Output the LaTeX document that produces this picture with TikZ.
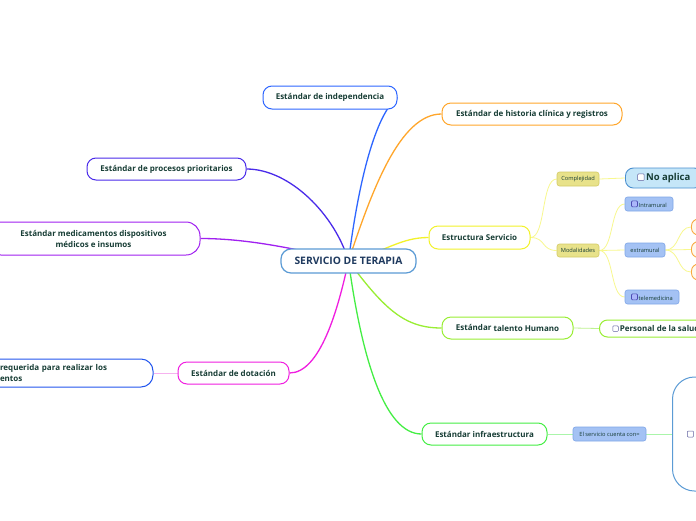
\documentclass[tikz,border=0pt]{standalone}
\usepackage{fontspec}
\setmainfont{Open Sans}
\usetikzlibrary{backgrounds}
\definecolor{txt}{HTML}{173D35}
\definecolor{navy}{HTML}{1F3A5F}
\definecolor{cc}{HTML}{5B9BD5}
\definecolor{cblue}{HTML}{2E66FF}
\definecolor{cblue2}{HTML}{2255EE}
\definecolor{corange}{HTML}{FFA62B}
\definecolor{cindigo}{HTML}{4A2BEA}
\definecolor{cpurple}{HTML}{A020F0}
\definecolor{cmag}{HTML}{F01EE0}
\definecolor{cpink}{HTML}{F6B2EF}
\definecolor{cyel}{HTML}{F2F22A}
\definecolor{cyel2}{HTML}{F8F88E}
\definecolor{clgreen}{HTML}{99EE33}
\definecolor{clgreen2}{HTML}{BDF28E}
\definecolor{cgreen}{HTML}{44EE44}
\definecolor{cgreen2}{HTML}{AAF5AA}
\definecolor{ykh}{HTML}{E8E28A}
\definecolor{ykhd}{HTML}{D4CB66}
\definecolor{lb}{HTML}{A4C2F4}
\definecolor{lbd}{HTML}{7FA6E8}
\definecolor{nab}{HTML}{C5E6F8}
\definecolor{nabd}{HTML}{4A90D0}
\definecolor{corng}{HTML}{F8A940}
\definecolor{corf}{HTML}{FFF8EE}
\newcommand{\cbox}[1]{\tikz[baseline=0pt]\draw[draw=gray!75!blue, line width=0.5pt, rounded corners=0.8pt, fill=white] (0pt,0pt) rectangle (#1,#1);}
\newcommand{\cboxb}[1]{\tikz[baseline=-0.5pt]\draw[draw=blue!40!gray, line width=0.6pt, rounded corners=1pt, fill=lb!70!blue!60] (0pt,0pt) rectangle (#1,#1);}
\tikzset{
  topic/.style={draw, fill=white, line width=1pt, rounded corners=9pt, inner sep=0pt,
    font=\bfseries\fontsize{8}{11}\selectfont, text=txt, minimum height=22pt},
  subbox/.style={draw, line width=0.6pt, rounded corners=2.5pt, inner sep=0pt,
    font=\fontsize{5.7}{6.5}\selectfont, text=txt, minimum height=14pt},
  link/.style={line width=1.3pt},
  sublink/.style={line width=0.8pt},
}
\begin{document}
\begin{tikzpicture}[x=1pt,y=-1pt]
\useasboundingbox (0,0) rectangle (696,520);
\clip (0,0) rectangle (696,520);

% central
\node[draw=cc, fill=white, line width=1.2pt, rounded corners=10pt, minimum width=135pt, minimum height=24pt,
  inner sep=0pt, font=\bfseries\fontsize{10.3}{12}\selectfont, text=navy] (c) at (348.5,261) {SERVICIO DE TERAPIA};

% main topics
\node[topic, draw=cblue, minimum width=134pt, minimum height=23pt] (indep) at (330,97.5) {Estándar de independencia};
\node[topic, draw=corange, minimum width=180pt] (hist) at (532,114) {Estándar de historia clínica y registros};
\node[topic, draw=cindigo, minimum width=159pt] (proc) at (166.5,169) {Estándar de procesos prioritarios};
\node[topic, draw=cpurple, minimum width=213pt, minimum height=33pt, rounded corners=14pt, align=center] (med) at (93.5,238.5) {Estándar medicamentos dispositivos\\médicos e insumos};
\node[topic, draw=cyel, minimum width=101pt, minimum height=23pt] (est) at (479.5,237.5) {Estructura Servicio};
\node[topic, draw=clgreen, minimum width=131pt] (tal) at (507.5,328) {\raisebox{1pt}{Estándar} talento Humano};
\node[topic, draw=cgreen, minimum width=125pt] (inf) at (484.5,434) {Estándar infraestructura};
\node[topic, draw=cmag, minimum width=111pt] (dot) at (233.5,373) {Estándar de dotación};
\node[topic, draw=cblue2, minimum height=28pt, text width=114pt, inner xsep=39pt, align=left, rounded corners=12pt] (req) at (57,373) {requerida para realizar los\\entos};

% estructura sub-nodes
\node[subbox, fill=ykh, draw=ykhd, minimum width=42pt] (comp) at (578,179) {Complejidad};
\node[subbox, fill=ykh, draw=ykhd, minimum width=42pt, minimum height=13pt] (mod) at (578,250.5) {Modalidades};
\node[anchor=west, fill=nab, draw=nabd, line width=0.9pt, rounded corners=8pt, minimum height=20pt, inner xsep=12pt, inner ysep=0pt,
  font=\bfseries\fontsize{9.5}{11}\selectfont, text=txt] (noap) at (625,178) {\cbox{6.5pt}\,No aplica};
\node[subbox, fill=lb, draw=lbd, minimum width=48pt] (intra) at (649,204) {\cboxb{6pt}\,Intramural};
\node[subbox, fill=lb, draw=lbd, minimum width=40pt] (extra) at (645,250) {extramural};
\node[subbox, fill=lb, draw=lbd, minimum width=54pt] (tele) at (652,297) {\cboxb{6pt}\,telemedicina};
\node[anchor=west, draw=corng, fill=corf, line width=0.9pt, rounded corners=7pt, minimum width=40pt, minimum height=16pt] (o1) at (691,227) {};
\node[anchor=west, draw=corng, fill=corf, line width=0.9pt, rounded corners=7pt, minimum width=40pt, minimum height=16pt] (o2) at (691,249.5) {};
\node[anchor=west, draw=corng, fill=corf, line width=0.9pt, rounded corners=7pt, minimum width=40pt, minimum height=16pt] (o3) at (691,272) {};

% talento sub
\node[anchor=west, draw=clgreen, fill=white, line width=1pt, rounded corners=8pt, minimum height=17pt, inner xsep=13pt, inner ysep=0pt,
  font=\bfseries\fontsize{8}{9}\selectfont, text=txt] (pers) at (599,328.5) {\cbox{5.5pt}\,Personal de la salud};

% infraestructura sub
\node[subbox, fill=lb, draw=lbd, minimum width=73pt] (serv) at (609.5,434) {El servicio cuenta con=};
\node[anchor=west, draw=cc, fill=white, line width=1pt, rounded corners=22pt, minimum width=90pt, minimum height=114pt] (big) at (672,434) {};
\node[anchor=west, inner sep=0pt] (bigcb) at (687,434) {\cbox{6pt}};

\begin{scope}[on background layer]
  \fill[white] (0,0) rectangle (696,520);
  \draw[link, cblue] (c.center) .. controls (360,170) and (378,112) .. (indep.east);
  \draw[link, corange] (c.center) .. controls (372,190) and (400,114) .. (hist.west);
  \draw[link, cindigo] (proc.east) .. controls (290,169) and (335,215) .. (c.center);
  \draw[link, cpurple] (med.east) .. controls (250,238.5) and (300,250) .. (c.center);
  \draw[link, cmag] (dot.east) .. controls (320,373) and (338,310) .. (c.center);
  \draw[link, cyel] (c.center) .. controls (385,252) and (400,237.5) .. (est.west);
  \draw[link, clgreen] (c.center) .. controls (385,310) and (405,328) .. (tal.west);
  \draw[link, cgreen] (c.center) .. controls (362,360) and (385,434) .. (inf.west);
  \draw[sublink, cpink] (dot.west) -- (req.east);
  \draw[sublink, cyel2] (est.east) .. controls (546,237.5) and (541,179) .. (comp.west);
  \draw[sublink, cyel2] (est.east) .. controls (546,237.5) and (541,250.5) .. (mod.west);
  \draw[sublink, cyel2] (comp.east) -- (noap.west);
  \draw[sublink, cyel2] (mod.east) .. controls (614,250.5) and (610,204) .. (intra.west);
  \draw[sublink, cyel2] (mod.east) -- (extra.west);
  \draw[sublink, cyel2] (mod.east) .. controls (614,250.5) and (610,297) .. (tele.west);
  \draw[sublink, cyel2] (extra.east) .. controls (680,250) and (677,227) .. (o1.west);
  \draw[sublink, cyel2] (extra.east) -- (o2.west);
  \draw[sublink, cyel2] (extra.east) .. controls (680,250) and (677,272) .. (o3.west);
  \draw[sublink, clgreen2] (tal.east) -- (pers.west);
  \draw[sublink, cgreen2] (inf.east) -- (serv.west);
  \draw[sublink, cgreen2] (serv.east) -- (big.west);
\end{scope}
\end{tikzpicture}
\end{document}
